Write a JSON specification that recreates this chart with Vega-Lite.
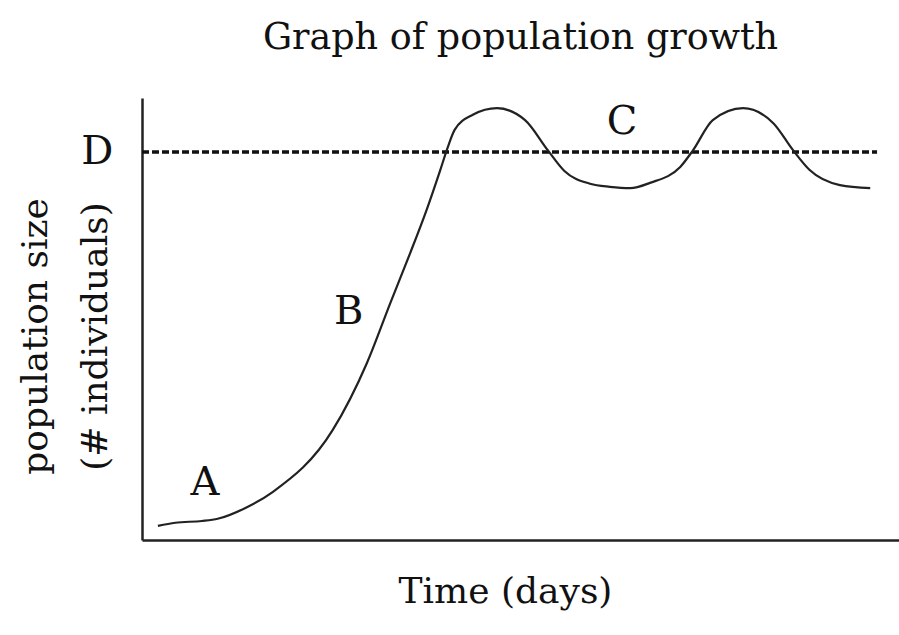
{
  "$schema": "https://vega.github.io/schema/vega-lite/v6.json",
  "autosize": "none",
  "width": 757,
  "height": 442,
  "padding": {"left": 142, "top": 98, "right": 0, "bottom": 95},
  "background": "white",
  "title": {"text": "Graph of population growth", "anchor": "middle", "offset": 42, "font": "DejaVu Serif", "fontSize": 36.5, "fontWeight": "normal", "color": "#111"},
  "config": {
    "view": {"stroke": null},
    "axis": {"grid": false, "ticks": false, "labels": false, "domainColor": "#222", "domainWidth": 2.5, "titleFont": "DejaVu Serif", "titleFontWeight": "normal", "titleColor": "#111", "titleFontSize": 36}
  },
  "datasets": {
    "curve": [
      {"t": 2.1, "n": 3.2}, {"t": 4.4, "n": 3.9}, {"t": 7.9, "n": 4.3}, {"t": 10.0, "n": 4.8},
      {"t": 13.6, "n": 7.2}, {"t": 17.3, "n": 10.9}, {"t": 25.2, "n": 24.9}, {"t": 29.7, "n": 40.0},
      {"t": 32.8, "n": 53.6}, {"t": 35.4, "n": 64.8}, {"t": 37.6, "n": 74.7}, {"t": 39.4, "n": 83.7},
      {"t": 40.4, "n": 88.9}, {"t": 41.3, "n": 92.8},
      {"t": 43.7, "n": 96.2}, {"t": 46.9, "n": 97.7}, {"t": 50.6, "n": 95.0}, {"t": 53.6, "n": 88.2},
      {"t": 55.8, "n": 83.5}, {"t": 59.2, "n": 80.6}, {"t": 61.8, "n": 79.9},
      {"t": 64.5, "n": 79.6}, {"t": 67.1, "n": 80.8}, {"t": 71.1, "n": 84.4}, {"t": 72.8, "n": 88.2},
      {"t": 75.4, "n": 95.0}, {"t": 79.4, "n": 97.7}, {"t": 83.4, "n": 94.3}, {"t": 86.0, "n": 88.2},
      {"t": 88.2, "n": 83.7}, {"t": 92.2, "n": 80.3}, {"t": 96.2, "n": 79.6}
    ],
    "capacity": [{"t": 0, "n": 87.8}, {"t": 97.1, "n": 87.8}],
    "labels": [
      {"t": 8.3, "n": 12.9, "label": "A"},
      {"t": 27.3, "n": 51.5, "label": "B"},
      {"t": 63.4, "n": 94.6, "label": "C"},
      {"t": -5.9, "n": 87.8, "label": "D"}
    ]
  },
  "encoding": {
    "x": {"field": "t", "type": "quantitative", "scale": {"domain": [0, 100], "nice": false, "zero": false},
      "axis": {"title": "Time (days)", "titlePadding": 34, "titleX": 363}},
    "y": {"field": "n", "type": "quantitative", "scale": {"domain": [0, 100], "nice": false, "zero": false},
      "axis": {"title": ["population size", "(# individuals)"], "titlePadding": 28, "titleY": 238, "titleLineHeight": 60}}
  },
  "layer": [
    {"data": {"name": "capacity"}, "mark": {"type": "line", "color": "#111", "strokeWidth": 3.5, "strokeDash": [7, 3], "clip": false}},
    {"data": {"name": "curve"}, "mark": {"type": "line", "color": "#222", "strokeWidth": 2.2, "interpolate": "monotone"}},
    {"data": {"name": "labels"}, "mark": {"type": "text", "font": "DejaVu Serif", "fontSize": 40, "color": "#111", "baseline": "middle", "align": "center", "clip": false},
      "encoding": {"text": {"field": "label", "type": "nominal"}}}
  ]
}
